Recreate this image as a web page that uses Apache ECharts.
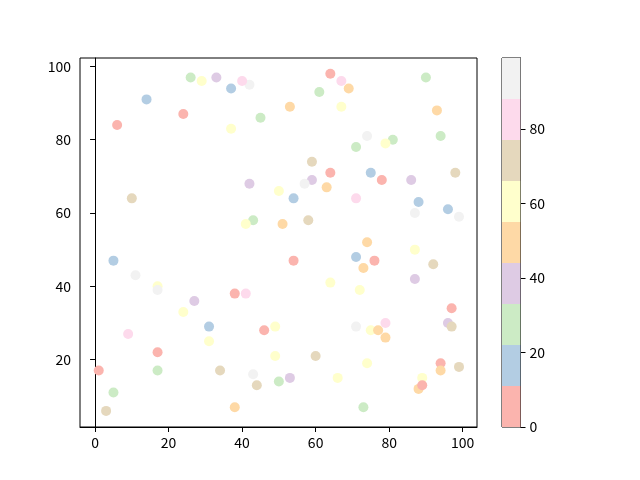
<!DOCTYPE html>
<html><head><meta charset="utf-8">
<script src="https://cdn.jsdelivr.net/npm/echarts@6/dist/echarts.min.js"></script>
<style>html,body{margin:0;padding:0;background:#fff}#c{width:640px;height:480px}</style>
</head><body><div id="c"></div>
<script>
const xs = [26,29,33,37,42,40,14,24,6,45,37,42,64,67,69,61,53,67,90,93,74,81,79,71,94,59,64,75,78,86,98,59,57,63,50,10,43,41,51,5,11,17,17,27,38,41,24,54,71,88,87,96,99,58,74,87,54,71,76,73,92,64,87,72,97,31,31,9,17,1,17,34,5,3,46,49,49,43,44,50,38,53,60,66,71,75,77,79,79,74,73,96,97,94,99,94,89,88,89];
const ys = [97,96,97,94,95,96,91,87,84,86,83,68,98,96,94,93,89,89,97,88,81,80,79,78,81,74,71,71,69,69,71,69,68,67,66,64,58,57,57,47,43,40,39,36,38,38,33,64,64,63,60,61,59,58,52,50,47,48,47,45,46,41,42,39,34,29,25,27,22,17,17,17,11,6,28,29,21,16,13,14,7,15,21,15,29,28,28,30,26,19,7,30,29,19,18,17,15,12,13];
const cs = [27,60,38,16,93,82,16,5,5,27,60,38,5,82,49,27,49,60,27,49,93,27,60,27,27,71,5,16,5,38,71,38,93,49,60,71,27,60,49,16,93,60,93,38,5,82,60,16,82,16,93,16,93,71,49,60,5,16,5,49,71,60,38,60,5,16,60,82,5,5,27,71,27,71,5,60,60,93,71,27,49,38,71,60,93,60,49,82,49,60,27,38,71,5,71,49,60,49,5];
const colors = ['#fbb4ae','#b3cde3','#ccebc5','#decbe4','#fed9a6','#ffffcc','#e5d8bd','#fddaec','#f2f2f2'];
const binEdges = [0,11,22,33,44,55,66,77,88,99];
const xTicks = [0,20,40,60,80,100];
const yTicks = [20,40,60,80,100];
const cTicks = [0,20,40,60,80];

const font = 'Noto Sans CJK SC';
const pieces = colors.map((c,i)=>({min:binEdges[i], max:binEdges[i+1], color:c}));
const cbSeries = colors.map((c,i)=>({
  type:'bar', xAxisIndex:1, yAxisIndex:1, stack:'cb', data:[binEdges[i+1]-binEdges[i]],
  barWidth:'100%', itemStyle:{color:c}, silent:true, animation:false
}));
const axisCommon = (ticks) => ({
  axisLine:{show:true, lineStyle:{color:'#000', width:1}},
  axisTick:{show:true, length:5, lineStyle:{color:'#000'}, customValues:ticks},
  axisLabel:{color:'#000', fontSize:14, fontFamily:font, margin:9, customValues:ticks},
  splitLine:{show:false}
});
const chart = echarts.init(document.getElementById('c'), null, {renderer:'canvas'});
chart.setOption({
  animation:false,
  grid:[
    {left:80, top:58, width:397, height:369, show:true, borderColor:'#000', borderWidth:1, backgroundColor:'transparent'},
    {left:502, top:58, width:18.5, height:369, show:true, borderColor:'#000', borderWidth:1, backgroundColor:'transparent'}
  ],
  xAxis:[
    Object.assign({type:'value', gridIndex:0, min:-4.1, max:103.9}, axisCommon(xTicks)),
    {type:'category', gridIndex:1, data:['c'], show:false, boundaryGap:true}
  ],
  yAxis:[
    Object.assign({type:'value', gridIndex:0, min:1.6, max:102.3}, axisCommon(yTicks)),
    Object.assign({type:'value', gridIndex:1, min:0, max:99, position:'right'}, axisCommon(cTicks))
  ],
  visualMap:{type:'piecewise', show:false, seriesIndex:0, dimension:2, pieces:pieces},
  series:[
    {type:'scatter', xAxisIndex:0, yAxisIndex:0, symbolSize:10,
     data: xs.map((x,i)=>[x, ys[i], cs[i]]), itemStyle:{opacity:1}}
  ].concat(cbSeries)
});
</script></body></html>
